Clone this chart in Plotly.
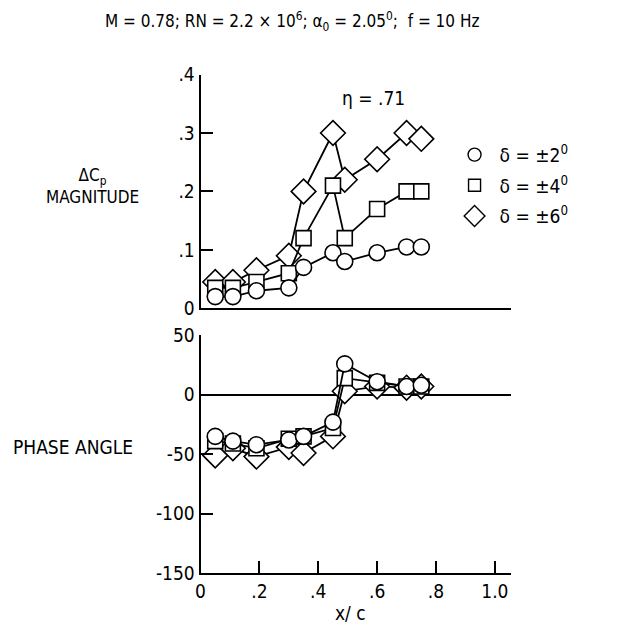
import plotly.graph_objects as go
from plotly.subplots import make_subplots

# estaciones x/c
x_c = [0.05, 0.11, 0.19, 0.30, 0.35, 0.45, 0.49, 0.60, 0.70, 0.75]

# magnitud Delta Cp
mag_d2 = [0.02, 0.02, 0.03, 0.035, 0.07, 0.095, 0.08, 0.095, 0.105, 0.105]
mag_d4 = [0.035, 0.035, 0.045, 0.06, 0.12, 0.21, 0.12, 0.17, 0.20, 0.20]
mag_d6 = [0.045, 0.045, 0.065, 0.09, 0.20, 0.30, 0.22, 0.255, 0.30, 0.29]

# angulo de fase (grados)
fase_d2 = [-35, -39, -42, -38, -35, -23, 26, 11, 7, 8]
fase_d4 = [-39, -41, -45, -37, -35, -28, 14, 10, 7, 7]
fase_d6 = [-51, -45, -52, -44, -49, -35, 3, 7, 6, 7]

series = [
    ("δ = ±6<sup>0</sup>", "diamond", 19, mag_d6, fase_d6, 3),
    ("δ = ±4<sup>0</sup>", "square", 15, mag_d4, fase_d4, 2),
    ("δ = ±2<sup>0</sup>", "circle", 16, mag_d2, fase_d2, 1),
]

FONT = "DejaVu Sans Condensed"
W, H = 638, 627
OFF = 8  # margen del body en la página

# posición en la foto final -> pixel de la página (calibrado a ojo)
def page_x(r):
    return r

def page_y(r):
    return (r - 11.9) / 0.962

def px(r):
    return (page_x(r) - OFF) / W

def py(r):
    return 1 - (page_y(r) - OFF) / H

fig = make_subplots(rows=2, cols=1)

for name, sym, size, mag, fase, rank in series:
    mk = dict(symbol=sym, size=size, color="white",
              line=dict(color="black", width=1.6))
    ln = dict(color="black", width=1.8)
    fig.add_trace(go.Scatter(x=x_c, y=mag, mode="lines+markers", line=ln,
                             marker=mk, showlegend=False), row=1, col=1)
    fig.add_trace(go.Scatter(x=x_c, y=fase, mode="lines+markers", line=ln,
                             marker=mk, showlegend=False), row=2, col=1)
    # entrada de leyenda solo con símbolo
    fig.add_trace(go.Scatter(x=[None], y=[None], mode="markers", name=name,
                             marker=dict(symbol=sym, size=size - 3, color="white",
                                         line=dict(color="black", width=1.4)),
                             legendgroup=name, legendrank=rank), row=1, col=1)

axis_common = dict(showline=True, linecolor="black", linewidth=2,
                   showgrid=False, zeroline=False, ticks="inside",
                   ticklen=12, tickwidth=2, tickcolor="black",
                   tickfont=dict(size=19, family=FONT, color="black"))

x_dom = [px(197), px(510)]
fig.update_layout(
    width=W, height=H,
    margin=dict(l=0, r=0, t=0, b=0),
    paper_bgcolor="white", plot_bgcolor="white",
    showlegend=True,
    legend=dict(x=px(448), y=py(136), xanchor="left", yanchor="top",
                bgcolor="rgba(0,0,0,0)", tracegroupgap=3, itemwidth=40,
                font=dict(size=19, family=FONT, color="black")),
)
fig.update_xaxes(domain=x_dom, range=[0, 1.055], **axis_common)
fig.update_xaxes(showticklabels=False, ticks="", row=1, col=1)
fig.update_xaxes(tickvals=[0, 0.2, 0.4, 0.6, 0.8, 1.0],
                 ticktext=["0", ".2", ".4", ".6", ".8", "1.0"], row=2, col=1)
fig.update_yaxes(**axis_common)
fig.update_yaxes(domain=[py(308), py(75)], range=[0, 0.4],
                 tickvals=[0, 0.1, 0.2, 0.3, 0.4],
                 ticktext=["0", ".1", ".2", ".3", ".4"], row=1, col=1)
fig.update_yaxes(domain=[py(572), py(335)], range=[-150, 50],
                 tickvals=[-150, -100, -50, 0, 50],
                 ticktext=["-150", "-100", "-50", "0", "50"],
                 zeroline=True, zerolinecolor="black", zerolinewidth=1.6,
                 row=2, col=1)

txt = dict(xref="paper", yref="paper", showarrow=False,
           font=dict(size=17, family=FONT, color="black"))
big = dict(xref="paper", yref="paper", showarrow=False,
           font=dict(size=19, family=FONT, color="black"))
fig.add_annotation(text="M = 0.78; RN = 2.2 × 10<sup>6</sup>; α<sub>0</sub> = 2.05<sup>0</sup>;  f = 10 Hz",
                   x=px(289), y=py(22), xanchor="center", yanchor="middle", **txt)
fig.add_annotation(text="η = .71", x=px(371), y=py(98), xanchor="center",
                   yanchor="middle", **big)
fig.add_annotation(text="ΔC<sub>p</sub><br>MAGNITUDE", x=px(88), y=py(186),
                   xanchor="center", yanchor="middle", **txt)
fig.add_annotation(text="PHASE ANGLE", x=px(68), y=py(446), xanchor="center",
                   yanchor="middle", **big)
fig.add_annotation(text="x/ c", x=px(348), y=py(612), xanchor="center",
                   yanchor="middle", **big)

fig.write_html("out.html")
